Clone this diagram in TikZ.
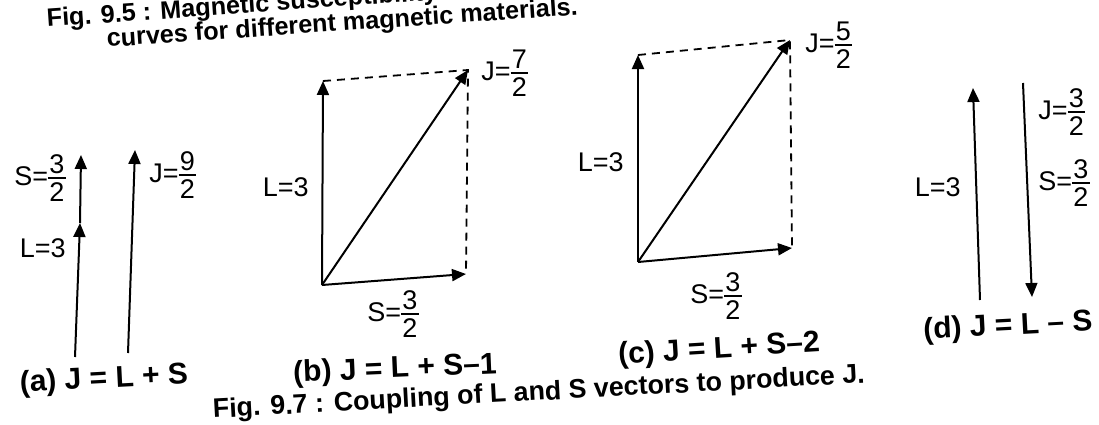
\documentclass[tikz,border=0pt]{standalone}
\usepackage{amsmath}
\usepackage{fontspec}
\setmainfont{Liberation Sans}
\usepackage{tikz}
\usetikzlibrary{arrows.meta}
\newcommand{\frc}[2]{$\vcenter{\offinterlineskip\ialign{\hfil\kern0.6pt##\kern0.6pt\hfil\cr\vphantom{0}#1\cr\noalign{\kern1.8pt\hrule height0.8pt\kern1.8pt}\vphantom{0}#2\cr}}$}

\begin{document}
\begin{tikzpicture}[x=0.5pt, y=-0.5pt,
  vec/.style={line width=1pt, -{Triangle[length=7pt,width=6pt]}},
  guide/.style={line width=0.9pt, dash pattern=on 4pt off 3pt},
  lbl/.style={font=\fontsize{13.5}{15}\selectfont, inner sep=1pt},
  capt/.style={font=\fontsize{15}{17}\selectfont\bfseries, inner sep=0pt},
  figcapt/.style={font=\fontsize{13.4}{15}\selectfont\bfseries, inner sep=0pt, anchor=base west}]
  \useasboundingbox (0,0) rectangle (1099,424);
  \clip (0,0) rectangle (1099,424);
  % caption of the figure above, cut by the top edge
  \node[figcapt, font=\fontsize{12.6}{14}\selectfont\bfseries, rotate=4] (f95a) at (47,27) {Fig. 9.5 : Magnetic susceptibility};
  \node[figcapt, font=\fontsize{12.6}{14}\selectfont\bfseries, rotate=3.9] (f95b) at (107,47) {curves for different magnetic materials.};
  % (a) L and S parallel
  \coordinate (aO) at (75,357);
  \coordinate (aL) at (80,223);
  \coordinate (aS) at (81,155);
  \coordinate (aJO) at (128,353);
  \coordinate (aJ) at (135,150);
  \draw[vec] (aO) -- (aL);
  \draw[vec] (aL) -- (aS);
  \draw[vec] (aJO) -- (aJ);
  \node[lbl, anchor=east] (aSl) at (68,178) {S=\frc{3}{2}};
  \node[lbl, anchor=east] (aLl) at (68,248) {L=3};
  \node[lbl, anchor=west] (aJl) at (147,175) {J=\frc{9}{2}};
  \node[capt, rotate=3] (acap) at (104,380) {(a) J = L + S};
  % (b) J = L + S - 1
  \coordinate (bO) at (322,285);
  \coordinate (bL) at (323,81);
  \coordinate (bS) at (466,274);
  \coordinate (bJ) at (468,70);
  \draw[guide] (bL) -- (bJ) -- (bS);
  \draw[vec] (bO) -- (bL);
  \draw[vec] (bO) -- (bS);
  \draw[vec] (bO) -- (bJ);
  \node[lbl, anchor=east] (bLl) at (311,187) {L=3};
  \node[lbl, anchor=west] (bJl) at (479,73) {J=\frc{7}{2}};
  \node[lbl] (bSl) at (393,314) {S=\frc{3}{2}};
  \node[capt, rotate=2.5] (bcap) at (395,370) {(b) J = L + S–1};
  % (c) J = L + S - 2
  \coordinate (cO) at (638,262);
  \coordinate (cL) at (638,55);
  \coordinate (cS) at (792,248);
  \coordinate (cJ) at (790,40);
  \draw[guide] (cL) -- (cJ) -- (cS);
  \draw[vec] (cO) -- (cL);
  \draw[vec] (cO) -- (cS);
  \draw[vec] (cO) -- (cJ);
  \node[lbl, anchor=east] (cLl) at (626,162) {L=3};
  \node[lbl, anchor=west] (cJl) at (803,45) {J=\frc{5}{2}};
  \node[lbl] (cSl) at (716,296) {S=\frc{3}{2}};
  \node[capt, rotate=3.5] (ccap) at (719,350) {(c) J = L + S–2};
  % (d) L and S antiparallel
  \coordinate (dLO) at (980,300);
  \coordinate (dL) at (973,88);
  \coordinate (dSO) at (1023,83);
  \coordinate (dS) at (1032,297);
  \draw[vec] (dLO) -- (dL);
  \draw[vec] (dSO) -- (dS);
  \node[lbl, anchor=east] (dLl) at (963,187) {L=3};
  \node[lbl, anchor=west] (dJl) at (1036,112) {J=\frc{3}{2}};
  \node[lbl, anchor=west] (dSl) at (1036,183) {S=\frc{3}{2}};
  \node[capt, rotate=3] (dcap) at (1008,327) {(d) J = L – S};
  % caption
  \node[figcapt, rotate=3.1] (f97) at (213,418) {Fig. 9.7 : Coupling of L and S vectors to produce J.};
\end{tikzpicture}
\end{document}
